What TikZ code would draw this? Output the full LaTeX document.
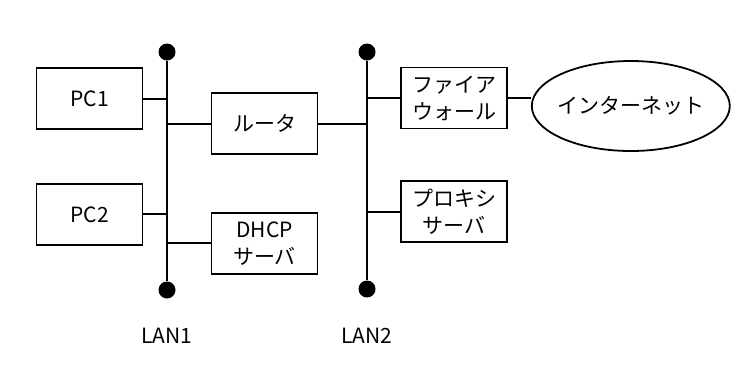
\documentclass[tikz,border=0pt]{standalone}
\usepackage{fontspec}
\setmainfont{Noto Sans CJK JP}
\usepackage{tikz}
\usetikzlibrary{positioning, shapes}

\begin{document}
\begin{tikzpicture}[x=0.5pt, y=-0.5pt, node distance=25pt, auto,
    box/.style={rectangle, draw, line width=0.9pt, minimum width=53pt, minimum height=30.5pt, align=center, inner sep=1pt, font=\fontsize{10.5}{13.5}\selectfont},
    netcloud/.style={ellipse, draw, line width=0.9pt, minimum width=99pt, minimum height=45pt, inner xsep=-2pt, inner ysep=0pt, font=\fontsize{10.5}{13.5}\selectfont},
    dot/.style={circle, fill, inner sep=0pt, minimum size=8.5pt},
    bus/.style={line width=1.4pt},
    link/.style={line width=1pt},
    tag/.style={font=\fontsize{10.5}{13.5}\selectfont}]

    \useasboundingbox (0,0) rectangle (738,371);

    \node[dot] (lan1top) at (167,52) {};
    \node[dot] (lan1bot) at (167,290) {};
    \node[dot] (lan2top) at (367,52) {};
    \node[dot] (lan2bot) at (367,289) {};

    \node[box] (pc1) at (89.5,98.5) {PC1};
    \node[box, below=26.5pt of pc1] (pc2) {PC2};
    \node[box] (router) at (264.5,123.5) {ルータ};
    \node[box, below=28.5pt of router] (dhcp) {DHCP\\サーバ};
    \node[box] (fw) at (454,98) {ファイア\\ウォール};
    \node[box, below=25.5pt of fw] (proxy) {プロキシ\\サーバ};
    \node[netcloud, right=11.5pt of fw, yshift=-4pt] (inet) {インターネット};

    \draw[bus] (lan1top) -- (lan1bot);
    \draw[bus] (lan2top) -- (lan2bot);

    \draw[link] (pc1.east) -- (pc1.east -| lan1top);
    \draw[link] (pc2.east) -- (pc2.east -| lan1top);
    \draw[link] (router.west) -- (router.west -| lan1top);
    \draw[link] (dhcp.west) -- (dhcp.west -| lan1top);
    \draw[link] (router.east) -- (router.east -| lan2top);
    \draw[link] (fw.west) -- (fw.west -| lan2top);
    \draw[link] (proxy.west) -- (proxy.west -| lan2top);
    \draw[link] (fw.east) -- (fw.east -| inet.west);

    \node[tag] (lan1) at (167,336) {LAN1};
    \node[tag] (lan2) at (367,336) {LAN2};
\end{tikzpicture}
\end{document}
